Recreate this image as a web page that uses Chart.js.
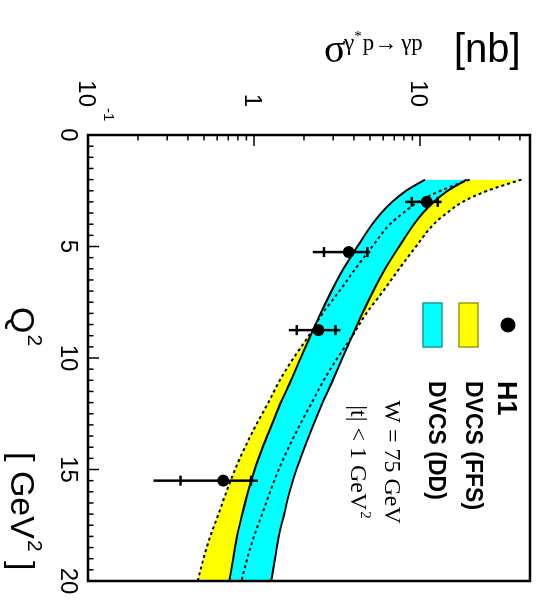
<!DOCTYPE html>
<html><head><meta charset="utf-8">
<script src="https://cdn.jsdelivr.net/npm/chart.js@4.4.0/dist/chart.umd.min.js"></script>
<style>
html,body{margin:0;padding:0;background:#fff;overflow:hidden;width:537px;height:602px}
#wrap{position:absolute;left:0;top:0;width:602px;height:537px;transform-origin:0 0;transform:translate(537px,0) rotate(90deg);}
canvas{display:block}
</style></head><body>
<div id="wrap"><canvas id="c" width="602" height="537"></canvas></div>
<script>
// Q^2 grid of the theory bands [GeV^2]
const q2Grid  = [2, 2.5, 3, 3.5, 4, 5, 6, 7, 8, 9, 10, 11, 12, 13, 14, 15, 16, 17, 18, 19, 20];
// DVCS (DD) band [nb]
const ddLow   = [10.71, 8.25, 6.80, 5.84, 5.16, 4.20, 3.46, 2.93, 2.52, 2.19, 1.91, 1.67, 1.45, 1.28, 1.13, 1.01, 0.92, 0.85, 0.79, 0.75, 0.71];
const ddHigh  = [19.1, 14.7, 12.1, 10.4, 9.21, 7.49, 6.17, 5.23, 4.50, 3.91, 3.41, 2.98, 2.59, 2.28, 2.02, 1.80, 1.64, 1.52, 1.41, 1.34, 1.27];
// DVCS (FFS) band [nb]
const ffsLow  = [19.9, 13.3, 9.74, 7.91, 6.60, 5.16, 4.08, 3.27, 2.59, 2.14, 1.73, 1.43, 1.22, 1.03, 0.883, 0.769, 0.682, 0.611, 0.545, 0.496, 0.458];
const ffsHigh = [40.8, 25.5, 18.1, 14.5, 12.1, 9.46, 7.49, 6.00, 4.75, 3.92, 3.18, 2.63, 2.23, 1.89, 1.62, 1.41, 1.25, 1.12, 1.00, 0.91, 0.84];
// H1 measurements
const h1Q2       = [3.0, 5.25, 8.75, 15.5];
const h1Sigma    = [11.0, 3.72, 2.45, 0.652];
const h1TotLow   = [8.13, 2.26, 1.62, 0.248];
const h1TotHigh  = [13.5, 5.02, 3.32, 1.057];
const h1StatLow  = [8.93, 2.64, 1.81, 0.361];
const h1StatHigh = [12.8, 4.82, 3.10, 0.96];
// axis ticks
const q2Ticks = [0, 5, 10, 15, 20];
const sigmaDecades = [0.1, 1, 10];
const sigmaLabels = ['10', '1', '10'];
const sigmaExponents = ['-1', '', ''];

const SANS = '"Liberation Sans", Arial, sans-serif';
const SERIF = '"Liberation Serif", "Times New Roman", serif';

function pts(xs, ys){ return xs.map((x,i)=>({x:x, y:ys[i]})); }

const deco = {
  id: 'deco',
  afterDatasetsDraw(chart){
    const ctx = chart.ctx, xs = chart.scales.x, ys = chart.scales.y;
    ctx.save();
    ctx.strokeStyle = '#000'; ctx.lineWidth = 2.5;
    for (let i=0;i<h1Q2.length;i++){
      const px = xs.getPixelForValue(h1Q2[i]);
      const a = ys.getPixelForValue(h1TotLow[i]), b = ys.getPixelForValue(h1TotHigh[i]);
      ctx.beginPath(); ctx.moveTo(px,a); ctx.lineTo(px,b); ctx.stroke();
      [h1StatLow[i], h1StatHigh[i]].forEach(v=>{
        const py = ys.getPixelForValue(v);
        ctx.beginPath(); ctx.moveTo(px-5,py); ctx.lineTo(px+5,py); ctx.stroke();
      });
    }
    ctx.restore();
  },
  afterDraw(chart){
    const ctx = chart.ctx, xs = chart.scales.x, ys = chart.scales.y, a = chart.chartArea;
    ctx.save();
    // frame
    ctx.strokeStyle = '#000'; ctx.lineWidth = 2.5;
    ctx.strokeRect(a.left, a.top, a.right-a.left, a.bottom-a.top);
    // Q2 ticks
    ctx.lineWidth = 1.5;
    for (let k=0;k<=40;k++){
      const q = k*0.5, px = xs.getPixelForValue(q);
      const len = (k%10===0) ? 11 : 5.5;
      ctx.beginPath(); ctx.moveTo(px,a.bottom); ctx.lineTo(px,a.bottom-len); ctx.stroke();
    }
    // sigma ticks
    sigmaDecades.forEach(d=>{
      for (let k=1;k<=9;k++){
        const v = d*k; if (v>ys.max) continue;
        const py = ys.getPixelForValue(v);
        const len = k===1 ? 11 : 5.5;
        ctx.beginPath(); ctx.moveTo(a.left,py); ctx.lineTo(a.left+len,py); ctx.stroke();
      }
    });
    // sigma labels
    ctx.fillStyle = '#000';
    ctx.textBaseline = 'middle';
    sigmaDecades.forEach((d,i)=>{
      const py = ys.getPixelForValue(d);
      ctx.font = '24px '+SANS; ctx.textAlign = 'right';
      ctx.fillText(sigmaLabels[i], 107, py+2);
      if (sigmaExponents[i]){
        ctx.font = '15px '+SANS; ctx.textAlign = 'left';
        ctx.fillText(sigmaExponents[i], 108, py-20);
      }
    });
    // Q2 title
    ctx.textBaseline = 'alphabetic'; ctx.textAlign = 'left';
    ctx.font = '34px '+SANS;
    ctx.fillText('Q', 307, 526);
    let w = ctx.measureText('Q').width;
    ctx.font = '21px '+SANS; ctx.fillText('2', 307+w+1, 509);
    ctx.font = '34px '+SANS;
    let x0 = 452; ctx.fillText('[ GeV', x0, 526);
    x0 += ctx.measureText('[ GeV').width;
    ctx.font = '21px '+SANS; ctx.fillText('2', x0+1, 509);
    x0 += ctx.measureText('2').width + 1;
    ctx.font = '34px '+SANS; ctx.fillText(' ]', x0, 526);
    // sigma title (vertical)
    ctx.save();
    ctx.translate(62, 213); ctx.rotate(-Math.PI/2);
    ctx.font = '40px '+SERIF; ctx.fillText('σ', 0, 0);
    let sx = 20;
    ctx.font = '23px '+SERIF; ctx.fillText('γ', sx, -12); sx += ctx.measureText('γ').width;
    ctx.font = '15px '+SERIF; ctx.fillText('*', sx, -21); sx += ctx.measureText('*').width;
    ctx.font = '23px '+SERIF; ctx.fillText('p', sx+1, -12); sx += ctx.measureText('p').width+1;
    ctx.font = '23px '+SANS; ctx.fillText('→', sx, -12); sx += ctx.measureText('→').width+4;
    ctx.font = '23px '+SERIF; ctx.fillText('γp', sx, -12);
    ctx.font = '40px '+SANS; ctx.fillText('[nb]', 130, 0);
    ctx.restore();
    // legend
    ctx.beginPath(); ctx.arc(325, 29, 7.5, 0, Math.PI*2); ctx.fillStyle='#000'; ctx.fill();
    ctx.lineWidth = 1.5;
    ctx.fillStyle = '#ffff00'; ctx.fillRect(303, 59, 44, 19);
    ctx.strokeStyle = '#9a9a10'; ctx.strokeRect(303, 59, 44, 19);
    ctx.fillStyle = '#00ffff'; ctx.fillRect(303, 95, 44, 19);
    ctx.strokeStyle = '#1a9a9a'; ctx.strokeRect(303, 95, 44, 19);
    ctx.fillStyle = '#000';
    ctx.font = 'bold 27px '+SANS; ctx.fillText('H1', 381, 39);
    ctx.font = 'bold 23px '+SANS; ctx.fillText('DVCS (FFS)', 381, 71);
    ctx.fillText('DVCS (DD)', 381, 108);
    ctx.textAlign = 'center';
    ctx.font = '24px '+SERIF; ctx.fillText('W = 75 GeV', 462, 152);
    const t1 = '|t| < 1 GeV';
    const wt = ctx.measureText(t1).width;
    ctx.font = '15px '+SERIF; const w2 = ctx.measureText('2').width;
    const lx = 462 - (wt+w2+1)/2;
    ctx.textAlign = 'left';
    ctx.font = '24px '+SERIF; ctx.fillText(t1, lx, 186);
    ctx.font = '15px '+SERIF; ctx.fillText('2', lx+wt+1, 176);
    ctx.restore();
  }
};

new Chart(document.getElementById('c'), {
  type: 'line',
  data: { datasets: [
    { label:'H1', data: pts(h1Q2, h1Sigma), showLine:false, pointRadius:6, pointHoverRadius:6,
      pointBackgroundColor:'#000', pointBorderColor:'#000', pointBorderWidth:0, order:0 },
    { label:'DVCS (DD) low', data: pts(q2Grid, ddLow), borderColor:'#000', borderWidth:2, pointRadius:0, fill:false, order:1 },
    { label:'DVCS (DD)', data: pts(q2Grid, ddHigh), borderColor:'#000', borderWidth:2, pointRadius:0,
      fill:'-1', backgroundColor:'#00ffff', order:1 },
    { label:'DVCS (FFS) low', data: pts(q2Grid, ffsLow), borderColor:'#000', borderWidth:2, borderDash:[3,3], pointRadius:0, fill:false, order:2 },
    { label:'DVCS (FFS)', data: pts(q2Grid, ffsHigh), borderColor:'#000', borderWidth:2, borderDash:[3,3], pointRadius:0,
      fill:'-1', backgroundColor:'#ffff00', order:2 }
  ]},
  options: {
    responsive:false, animation:false, devicePixelRatio:1,
    layout:{ padding:{ top:7, right:21, left:0, bottom:0 } },
    elements:{ line:{ cubicInterpolationMode:'monotone' } },
    plugins:{ legend:{display:false}, tooltip:{enabled:false}, filler:{ drawTime:'beforeDatasetsDraw' } },
    scales:{
      x:{ type:'linear', min:0, max:20, position:'bottom',
          grid:{display:false, drawTicks:false}, border:{display:false},
          afterBuildTicks(s){ s.ticks = q2Ticks.map(v=>({value:v})); },
          ticks:{ font:{family:SANS, size:24}, color:'#000', padding:6, maxRotation:0, autoSkip:false },
          afterFit(s){ s.height = 88; } },
      y:{ type:'logarithmic', min:0.1, max:46, position:'left',
          grid:{display:false, drawTicks:false}, border:{display:false},
          ticks:{ display:false },
          afterFit(s){ s.width = 135; } }
    }
  },
  plugins:[deco]
});
</script>
</body></html>
